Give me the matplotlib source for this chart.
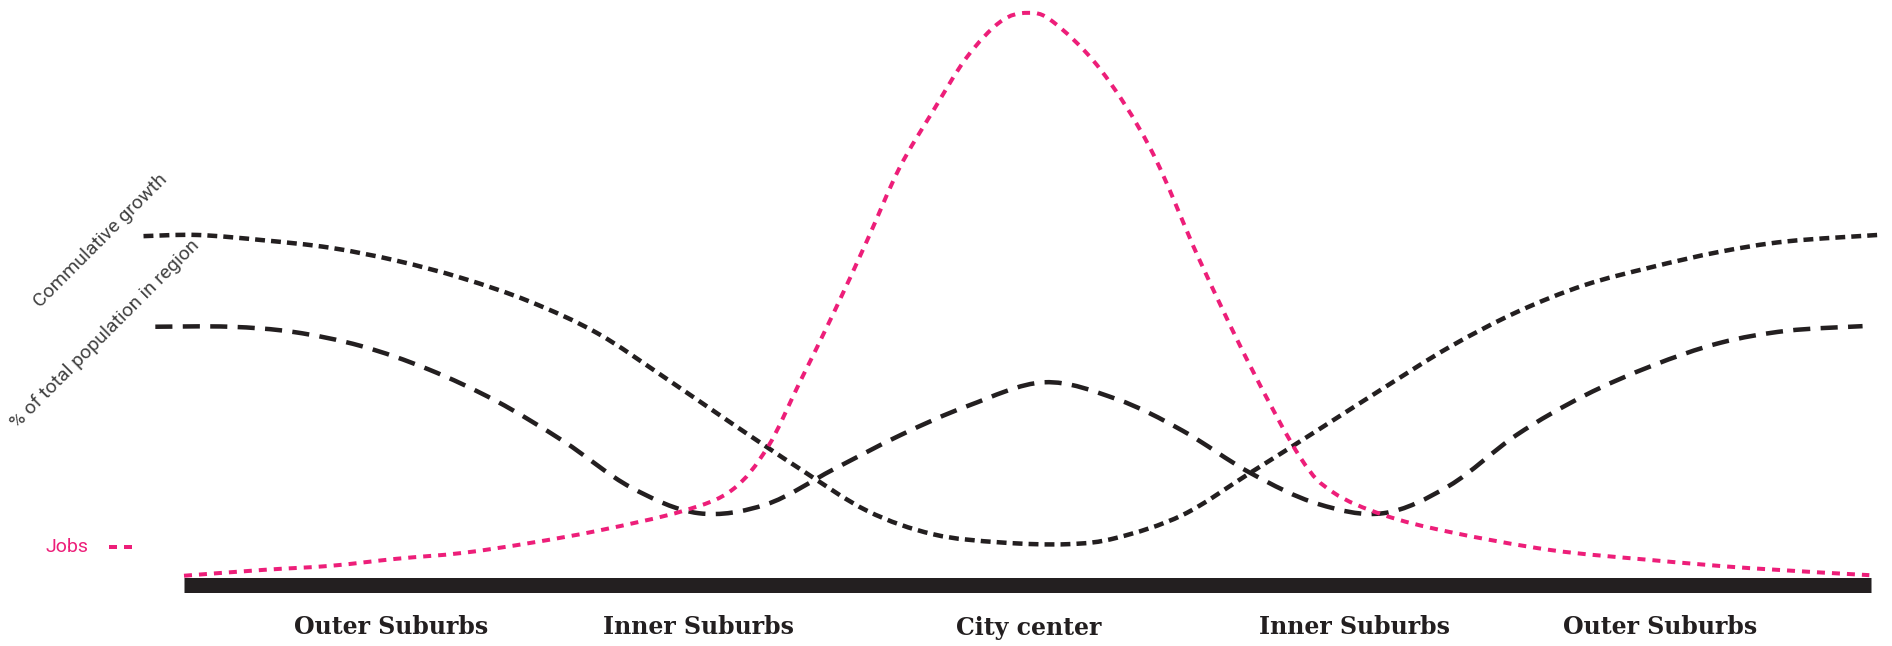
import matplotlib.pyplot as plt
import numpy as np
from matplotlib.lines import Line2D
from matplotlib.patches import PathPatch
from matplotlib.path import Path

INK = "#231F20"
PINK = "#ED1E79"

# position along the east-west transect (0 = western edge, 100 = eastern edge)
JOBS_X = [0, 4.7, 8.7, 12.6, 16.5, 20.5, 24.7, 29.6, 32.5, 34.6, 36.5, 38.5, 40.5,
          42.4, 44.4, 46.4, 48.4, 50.0, 51.5, 54.3, 57.3, 60.2, 63.2, 66.2, 68.1,
          71.1, 75.0, 81.0, 86.9, 92.8, 99.9]
JOBS_Y = [1.5, 2.5, 3.2, 4.4, 5.4, 7.1, 9.3, 12.6, 16.2, 23.5, 34.6, 46.4, 58.9,
          71.2, 81.0, 90.2, 96.3, 97.8, 96.3, 88.2, 74.5, 55.5, 37.4, 21.6, 15.8,
          11.9, 9.0, 5.9, 4.2, 2.8, 1.6]

GROWTH_X = [-2.4, 0.8, 4.7, 8.7, 12.6, 16.5, 20.5, 24.5, 28.5, 32.5, 36.5, 40.5,
            44.4, 48.4, 52.4, 55.3, 59.2, 63.2, 67.2, 71.1, 75.0, 79.0, 83.0, 87.0,
            91.0, 95.0, 100.4]
GROWTH_Y = [59.6, 59.8, 58.9, 57.6, 55.4, 52.4, 48.4, 43.0, 35.4, 27.5, 19.8, 12.6,
            8.6, 7.2, 6.9, 8.0, 11.9, 19.1, 26.4, 33.6, 40.6, 46.6, 51.2, 54.3,
            56.9, 58.7, 59.8]

POP_X = [-1.7, 2.7, 6.5, 10.5, 14.5, 18.5, 22.5, 26.5, 30.5, 34.5, 38.5, 42.5, 46.5,
         51.0, 55.3, 59.2, 63.2, 67.2, 71.1, 75.0, 79.0, 83.0, 87.0, 91.0, 95.0, 99.5]
POP_Y = [44.1, 44.1, 43.2, 40.8, 36.8, 31.4, 24.5, 16.6, 12.2, 13.7, 19.7, 25.6, 30.6,
         34.6, 31.7, 26.3, 19.1, 13.8, 12.2, 16.9, 25.6, 32.3, 37.4, 41.3, 43.4, 44.2]

REGION_POS = [12.3, 30.5, 50.1, 69.4, 87.5]
REGION_LABELS = ["Outer Suburbs", "Inner Suburbs", "City center", "Inner Suburbs", "Outer Suburbs"]

W, H = 1892, 646


def px(v):
    # pixels -> points at dpi 100
    return v * 0.72


def smooth_path(xs, ys):
    """Catmull-Rom through the points, written as cubic Bezier segments."""
    p = np.column_stack([xs, ys]).astype(float)
    ext = np.vstack([p[0], p, p[-1]])
    verts = [p[0]]
    codes = [Path.MOVETO]
    for i in range(1, len(ext) - 2):
        c1 = ext[i] + (ext[i + 1] - ext[i - 1]) / 6
        c2 = ext[i + 1] - (ext[i + 2] - ext[i]) / 6
        verts += [c1, c2, ext[i + 1]]
        codes += [Path.CURVE4] * 3
    return Path(verts, codes)


def draw_curve(ax, xs, ys, color, lw, dashes, z):
    patch = PathPatch(smooth_path(xs, ys), fill=False, edgecolor=color, lw=lw,
                      linestyle=(0, dashes), capstyle="butt", clip_on=False, zorder=z)
    ax.add_patch(patch)


def main() -> None:
    fig = plt.figure(figsize=(W / 100, H / 100), dpi=100)
    ax = fig.add_axes([184 / W, (H - 584.5) / H, 1687 / W, 584.5 / H])
    ax.set_xlim(0, 100)
    ax.set_ylim(0, 100)
    for s in ax.spines.values():
        s.set_visible(False)
    ax.set_yticks([])

    # thick baseline
    ax.axhline(0, color=INK, lw=px(15), solid_capstyle="butt", clip_on=False, zorder=1)

    draw_curve(ax, GROWTH_X, GROWTH_Y, INK, px(4.5), (2.2, 1.35), 2)
    draw_curve(ax, POP_X, POP_Y, INK, px(4.5), (3.8, 2.3), 2)
    draw_curve(ax, JOBS_X, JOBS_Y, PINK, px(4), (2.0, 1.75), 3)

    ax.set_xticks(REGION_POS, REGION_LABELS)
    ax.tick_params(axis="x", length=0, pad=px(31))
    for t in ax.get_xticklabels():
        t.set_fontfamily("DejaVu Serif")
        t.set_fontweight("bold")
        t.set_fontsize(17)
        t.set_color(INK)

    side = dict(family="Roboto", weight="normal", fontsize=14, color="#404040",
                rotation=45, rotation_mode="anchor", ha="center", va="center")
    fig.text(101 / W, 1 - 241 / H, "Commulative growth", **side)
    fig.text(105 / W, 1 - 334 / H, "% of total population in region", **side)

    fig.text(67 / W, 1 - 547 / H, "Jobs", family="Roboto", weight="normal",
             fontsize=14, color=PINK, ha="center", va="center")
    fig.add_artist(Line2D([109 / W, 132 / W], [1 - 547 / H, 1 - 547 / H],
                          color=PINK, lw=px(4), dashes=(2.0, 1.75),
                          dash_capstyle="butt"))

    fig.savefig("out.png", dpi=100)


if __name__ == "__main__":
    main()
